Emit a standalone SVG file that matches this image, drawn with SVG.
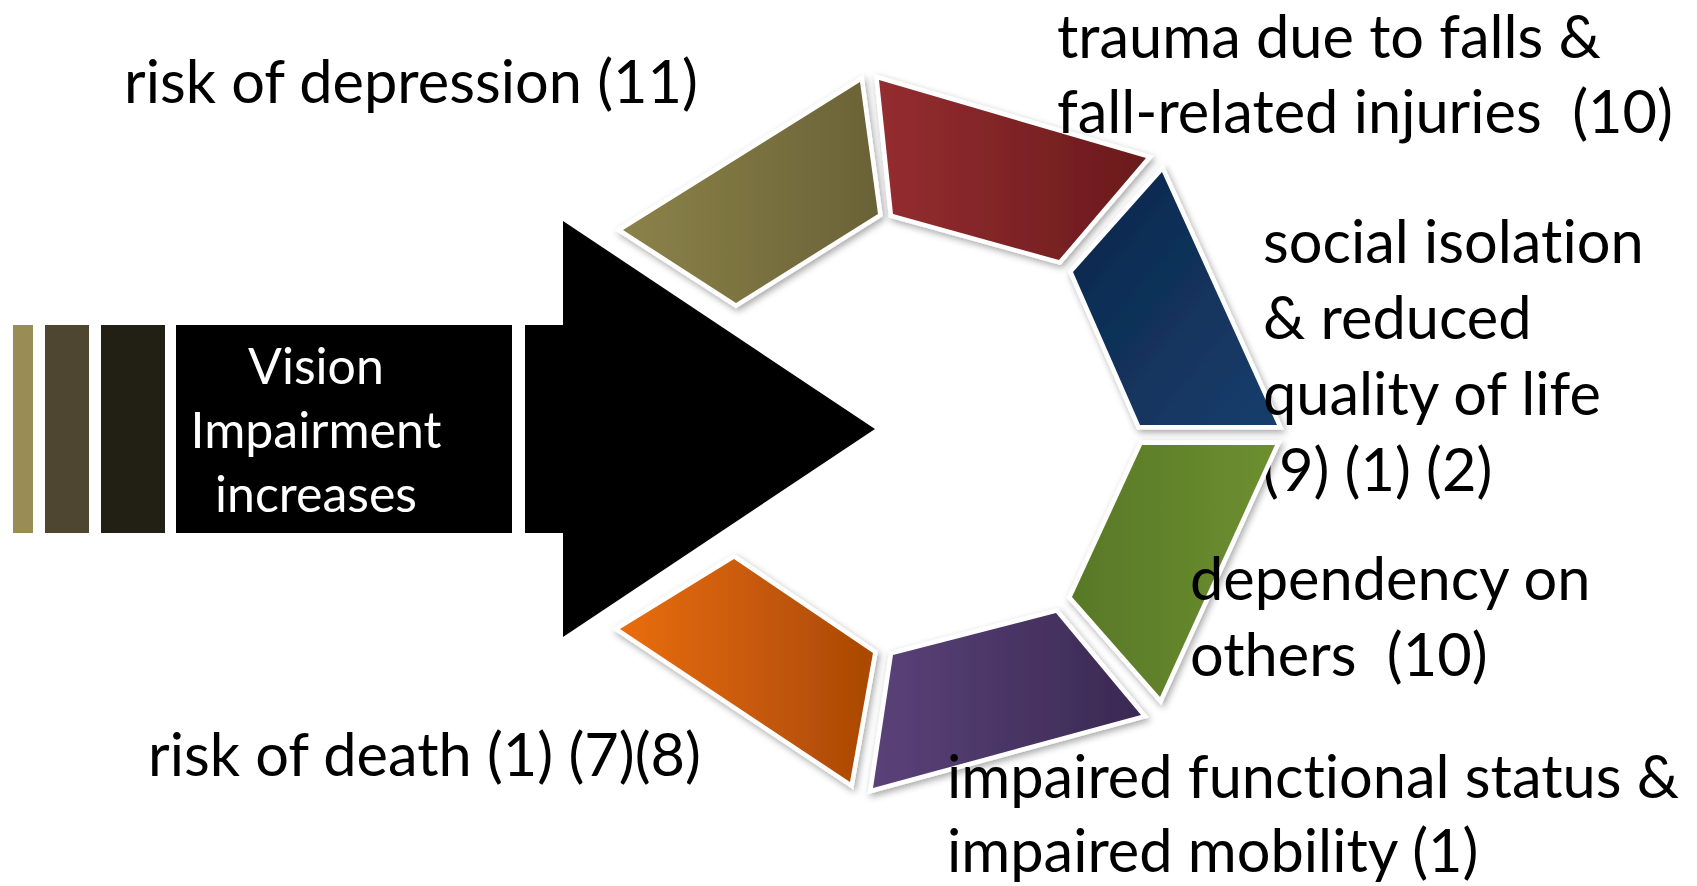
<svg xmlns="http://www.w3.org/2000/svg" width="1697" height="886" viewBox="0 0 1697 886">
<defs>
<style>
.lbl{font-family:Lato,"Liberation Sans",sans-serif;font-size:59.5px;fill:#000;font-variant-ligatures:none;}
.inner{font-family:Lato,"Liberation Sans",sans-serif;font-size:50px;fill:#fff;text-anchor:middle;font-variant-ligatures:none;}
.seg{stroke:#fff;stroke-width:9;stroke-linejoin:miter;paint-order:stroke;filter:url(#sh);}
</style>
<filter id="sh" x="-20%" y="-20%" width="140%" height="140%">
<feDropShadow dx="2" dy="3" stdDeviation="3.5" flood-color="#000" flood-opacity="0.35"/>
</filter>
<linearGradient id="gOlive" x1="0" y1="0" x2="1" y2="0"><stop offset="0" stop-color="#8b8249"/><stop offset="1" stop-color="#6a6237"/></linearGradient>
<linearGradient id="gRed" x1="0" y1="0" x2="1" y2="0"><stop offset="0" stop-color="#942d30"/><stop offset="1" stop-color="#6a1a1c"/></linearGradient>
<linearGradient id="gBlue" x1="0" y1="0" x2="1" y2="1"><stop offset="0" stop-color="#0c264a"/><stop offset="1" stop-color="#173e6c"/></linearGradient>
<linearGradient id="gGreen" x1="0" y1="0" x2="1" y2="0"><stop offset="0" stop-color="#587828"/><stop offset="1" stop-color="#6d8f2f"/></linearGradient>
<linearGradient id="gPurple" x1="0" y1="0" x2="1" y2="0"><stop offset="0" stop-color="#5a4279"/><stop offset="1" stop-color="#3a2952"/></linearGradient>
<linearGradient id="gOrange" x1="0" y1="0" x2="1" y2="0"><stop offset="0" stop-color="#e96d0d"/><stop offset="1" stop-color="#a94805"/></linearGradient>
</defs>
<rect width="1697" height="886" fill="#fff"/>

<g id="bars">
<rect x="13" y="325" width="20" height="208" fill="#9a8c55"/>
<rect x="45" y="325" width="44" height="208" fill="#4e4630"/>
<rect x="101" y="325" width="64" height="208" fill="#221f14"/>
</g>

<g id="vision-box">
<rect x="176" y="325" width="336" height="208" fill="#000"/>
<text class="inner" x="316" y="384">Vision</text>
<text class="inner" x="316" y="448">Impairment</text>
<text class="inner" x="316" y="512">increases</text>
</g>

<g id="connectors">
<polygon id="big-arrow" points="525,325 563,325 563,221 875,429 563,637 563,533 525,533" fill="#000"/>
</g>

<g id="depression">
<polygon class="seg" fill="url(#gOlive)" points="623,230 860,82 878,214 736,303"/>
<text class="lbl" x="124" y="103">risk of depression (11)</text>
</g>

<g id="trauma">
<polygon class="seg" fill="url(#gRed)" points="879,80 1146,158 1059,260 893,214"/>
<text class="lbl" x="1057" y="58">trauma due to falls &amp;</text>
<text class="lbl" x="1057" y="133" xml:space="preserve">fall-related injuries  (10)</text>
</g>

<g id="isolation">
<polygon class="seg" fill="url(#gBlue)" points="1162,172 1277,425 1140,425 1073,272"/>
<text class="lbl" x="1263" y="263">social isolation</text>
<text class="lbl" x="1263" y="339">&amp; reduced</text>
<text class="lbl" x="1263" y="415">quality of life</text>
<text class="lbl" x="1263" y="491">(9) (1) (2)</text>
</g>

<g id="dependency">
<polygon class="seg" fill="url(#gGreen)" points="1142,445 1275,445 1160,697 1072,597"/>
<text class="lbl" x="1190" y="600">dependency on</text>
<text class="lbl" x="1190" y="676" xml:space="preserve">others  (10)</text>
</g>

<g id="functional">
<polygon class="seg" fill="url(#gPurple)" points="893,655 1056,613 1141,715 873,788"/>
<text class="lbl" x="947" y="798">impaired functional status &amp;</text>
<text class="lbl" x="947" y="872">impaired mobility (1)</text>
</g>

<g id="death">
<polygon class="seg" fill="url(#gOrange)" points="734,559 873,653 850,782 620,629"/>
<text class="lbl" x="148" y="776">risk of death (1) (7)(8)</text>
</g>
</svg>
